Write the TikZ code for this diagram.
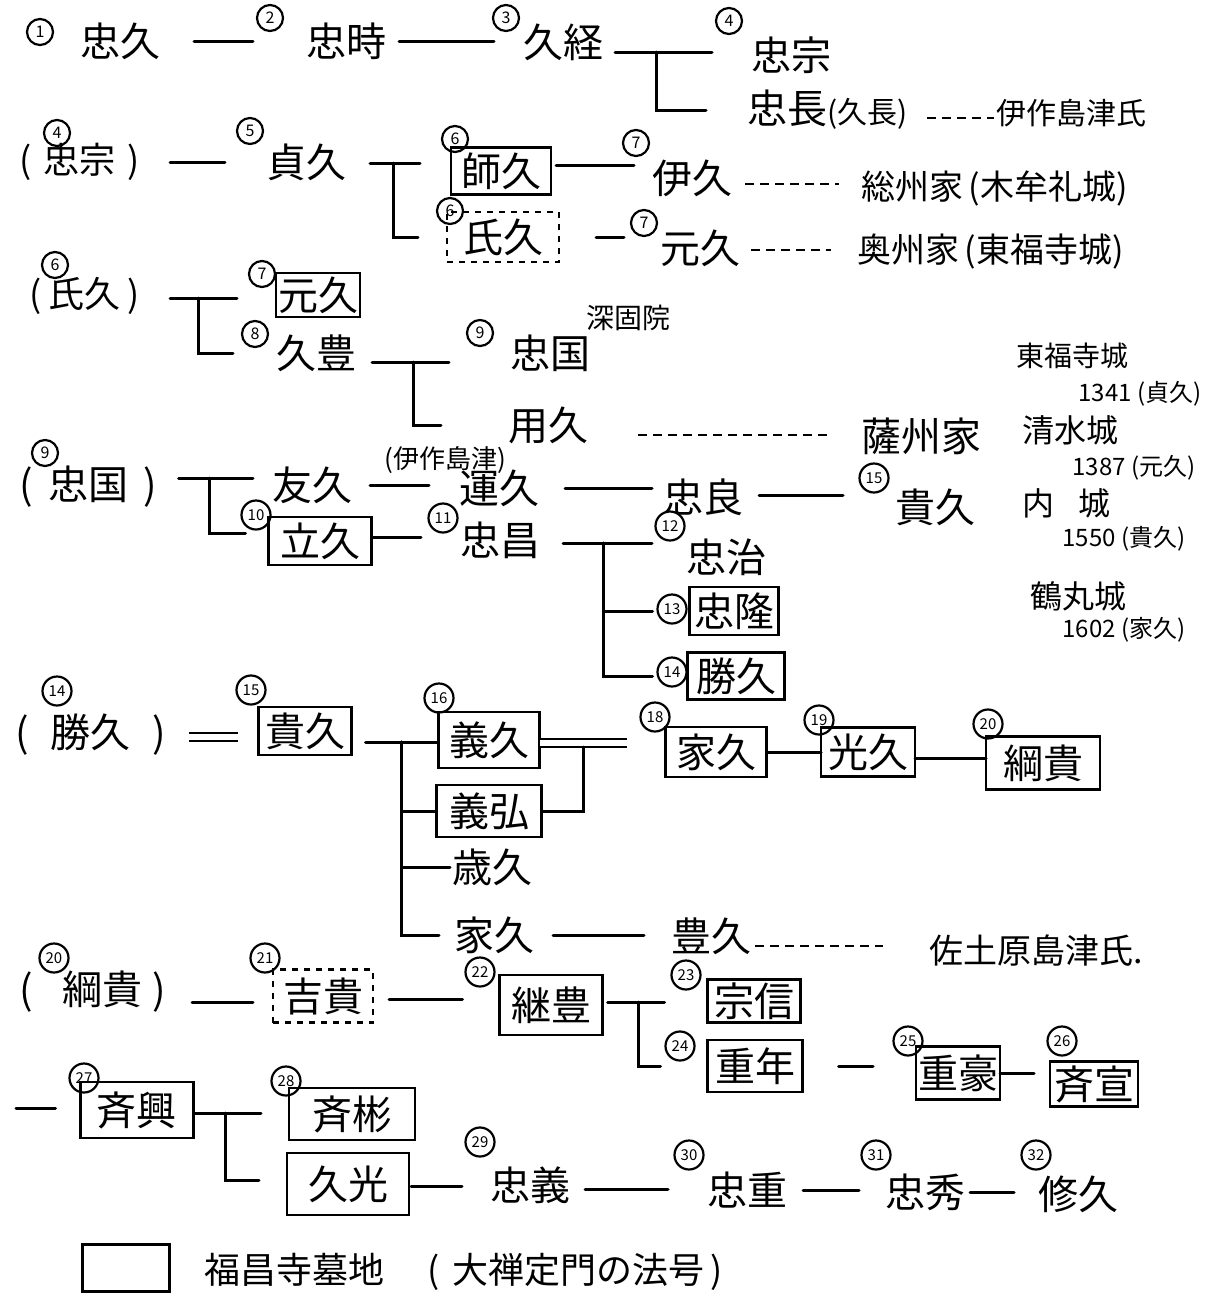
\documentclass[tikz,border=0pt]{standalone}
\usepackage{fontspec}
\setmainfont{Noto Sans CJK JP}
\newcommand{\szf}[1]{\fontsize{#1}{#1}\selectfont}
\begin{document}
\begin{tikzpicture}[x=0.5pt,y=-0.5pt,
 link/.style={line width=1.5pt, line cap=round},
 dashlink/.style={line width=1.4pt, dash pattern=on 4.5pt off 3pt},
 dbl/.style={line width=1.2pt, double, double distance=2.6pt},
 nm/.style={inner sep=1pt, outer sep=0pt, font=\szf{20}},
 bx/.style={draw, line width=1.4pt, inner sep=1pt, outer sep=0pt, font=\szf{20}},
 dbx/.style={bx, line width=1.2pt, dash pattern=on 3pt off 3pt},
 num/.style={circle, draw, line width=1.1pt, inner sep=0pt, minimum size=13pt, font=\szf{8}},
 numw/.style={num, minimum size=14.5pt, font=\szf{7.5}},
 note/.style={inner sep=1pt, font=\szf{14}},
 yr/.style={inner sep=1pt, font=\szf{12}}]
\useasboundingbox (0,0) rectangle (1225,1313);
\fill[white] (0,0) rectangle (1225,1313);

% ---------- Row 1
\node[nm] (tadahisa) at (120,41) {忠久};
\node[num] (c1) at (40,32) {1};
\node[nm] (tadatoki) at (346,41) {忠時};
\node[num] (c2) at (270,18) {2};
\node[nm] (hisatsune) at (563,42) {久経};
\node[num] (c3) at (506,18) {3};
\node[nm] (tadamune) at (791,55) {忠宗};
\node[num] (c4) at (729,21) {4};
\node[nm, anchor=west] (tadanaga) at (745,110) {忠長{\szf{15}(久長)}};
\node[nm, anchor=west, font=\szf{15}] (izaku) at (994,113) {伊作島津氏};

% ---------- Row 2
\node[nm, font=\szf{18}] (pTadamune) at (80,162) {(\hspace{6pt}忠宗\hspace{6pt})};
\node[num] (c4b) at (57,133) {4};
\node[nm] (sadahisa) at (306,162) {貞久};
\node[num] (c5) at (250,131) {5};
\node[bx, minimum width=50pt, minimum height=23.5pt] (morohisa) at (501,171) {師久};
\node[num] (c6) at (455,139) {6};
\node[nm] (korehisa) at (692,178) {伊久};
\node[num] (c7a) at (636,143) {7};
\node[nm, anchor=west, font=\szf{17}] (soshu) at (859,188) {総州家\hspace{3pt}(木牟礼城)};

% ---------- Row 3
\node[dbx, minimum width=56pt, minimum height=25pt] (ujihisa) at (503,237) {氏久};
\node[num] (c6b) at (450,211) {6};
\node[nm] (motohisaA) at (700,248) {元久};
\node[num] (c7b) at (644,223) {7};
\node[nm, anchor=west, font=\szf{17}] (oshu) at (855,252) {奥州家\hspace{3pt}(東福寺城)};

% ---------- Row 4
\node[nm, font=\szf{18}] (pUjihisa) at (85,296) {(\hspace{3.5pt}氏久\hspace{3.5pt})};
\node[num] (c6c) at (55,265) {6};
\node[bx, minimum width=41.5pt, minimum height=22pt] (motohisaB) at (318,295) {元久};
\node[num] (c7c) at (262,274) {7};
\node[nm] (hisatoyo) at (316,353) {久豊};
\node[num] (c8) at (255,334) {8};
\node[nm] (tadakuni) at (550,353) {忠国};
\node[num] (c9) at (480,333) {9};
\node[nm, font=\szf{14}] (shinko) at (628,318) {深固院};
\node[nm] (yochi) at (548,425) {用久};
\node[nm] (sasshu) at (921,436) {薩州家};

% ---------- castle notes
\node[note] (tofukuji) at (1072,356) {東福寺城};
\node[yr] (y1341) at (1140,394) {1341 (貞久)};
\node[note, font=\szf{16}] (shimizu) at (1070,430) {清水城};
\node[yr] (y1387) at (1134,468) {1387 (元久)};
\node[note, font=\szf{16}] (uchi) at (1066,503) {内\hspace{12pt}城};
\node[yr] (y1550) at (1124,539) {1550 (貴久)};
\node[note, font=\szf{16}] (tsurumaru) at (1078,596) {鶴丸城};
\node[yr] (y1602) at (1124,630) {1602 (家久)};

% ---------- Row 5
\node[nm] (pTadakuni) at (88,487) {(\hspace{7.5pt}忠国\hspace{7.5pt})};
\node[num] (c9b) at (45,453) {9};
\node[nm] (tomohisa) at (312,485) {友久};
\node[nm, font=\szf{13}] (ijuinlbl) at (445,460) {(伊作島津)};
\node[nm] (unkyu) at (499,488) {運久};
\node[nm] (tadayoshiA) at (703,497) {忠良};
\node[nm] (takahisaA) at (935,507) {貴久};
\node[numw] (c15a) at (874,478) {15};

% ---------- Row 6
\node[bx, minimum width=51.5pt, minimum height=24pt] (tatehisa) at (320,541) {立久};
\node[numw] (c10) at (256,515) {10};
\node[nm] (tadamasa) at (500,540) {忠昌};
\node[numw] (c11) at (443,518) {11};
\node[nm] (tadaharu) at (726,557) {忠治};
\node[numw] (c12) at (670,526) {12};
\node[bx, minimum width=44.5pt, minimum height=24pt] (tadataka) at (734,611) {忠隆};
\node[numw] (c13) at (672,609) {13};
\node[bx, minimum width=48.5pt, minimum height=23.5pt] (katsuhisa) at (736,676) {勝久};
\node[numw] (c14) at (672,672) {14};

% ---------- Row 7
\node[nm] (pKatsuhisa) at (91,735) {(\hspace{11pt}勝久\hspace{11pt})};
\node[numw] (c14b) at (57,691) {14};
\node[bx, minimum width=46.5pt, minimum height=24pt] (takahisaB) at (305,731) {貴久};
\node[numw] (c15b) at (251,690) {15};
\node[bx, minimum width=50.5pt, minimum height=28pt] (yoshihisa) at (489,740) {義久};
\node[numw] (c16) at (439,698) {16};
\node[bx, minimum width=52.5pt, minimum height=26pt] (yoshihiro) at (489,811) {義弘};
\node[nm] (toshihisa) at (492,867) {歳久};
\node[bx, minimum width=50.5pt, minimum height=25pt] (iehisaB) at (716,752) {家久};
\node[numw] (c18) at (655,717) {18};
\node[bx, minimum width=47pt, minimum height=24.5pt] (mitsuhisa) at (868,752) {光久};
\node[numw] (c19) at (819,720) {19};
\node[bx, minimum width=57pt, minimum height=26.5pt] (tsunataka) at (1043,763) {綱貴};
\node[numw] (c20) at (988,724) {20};

% ---------- Row 8
\node[nm] (iehisaA) at (494,935) {家久};
\node[nm] (toyohisa) at (711,936) {豊久};
\node[nm, anchor=west, font=\szf{17}] (sadowara) at (927,951) {佐土原島津氏.};

% ---------- Row 9
\node[nm] (pTsunataka) at (93,992) {(\hspace{14.5pt}綱貴\hspace{5pt})};
\node[numw] (c20b) at (54,958) {20};
\node[dbx, minimum width=50pt, minimum height=26.5pt] (yoshitaka) at (323,996) {吉貴};
\node[numw] (c21) at (265,958) {21};
\node[bx, minimum width=51.5pt, minimum height=30pt] (tsugutoyo) at (551,1005) {継豊};
\node[numw] (c22) at (480,972) {22};
\node[bx, minimum width=46.5pt, minimum height=21.5pt] (munenobu) at (754,1001) {宗信};
\node[numw] (c23) at (686,975) {23};
\node[bx, minimum width=47.5pt, minimum height=26pt] (shigetoshi) at (755,1066) {重年};
\node[numw] (c24) at (680,1046) {24};
\node[bx, minimum width=39.5pt, minimum height=26.5pt] (shigehide) at (958,1073) {重豪};
\node[numw] (c25) at (908,1041) {25};
\node[bx, minimum width=44pt, minimum height=22.5pt] (narinobu) at (1094,1084) {斉宣};
\node[numw] (c26) at (1062,1041) {26};

% ---------- Row 10
\node[bx, minimum width=56.5pt, minimum height=28pt] (narioki) at (137,1110) {斉興};
\node[numw] (c27) at (84,1078) {27};
\node[bx, minimum width=63pt, minimum height=26pt] (nariakira) at (352,1114) {斉彬};
\node[numw] (c28) at (286,1081) {28};
\node[bx, minimum width=61pt, minimum height=31pt] (hisamitsu) at (348,1184) {久光};
\node[nm] (tadayoshiB) at (530,1185) {忠義};
\node[numw] (c29) at (480,1142) {29};
\node[nm] (tadashige) at (747,1190) {忠重};
\node[numw] (c30) at (689,1155) {30};
\node[nm] (tadahide) at (925,1192) {忠秀};
\node[numw] (c31) at (876,1155) {31};
\node[nm] (osahisa) at (1078,1194) {修久};
\node[numw] (c32) at (1036,1155) {32};

% ---------- Legend
\node[draw, line width=1.4pt, minimum width=43.5pt, minimum height=23.5pt, inner sep=0pt] (legendbox) at (126,1268) {};
\node[nm, anchor=west, font=\szf{18}] (legendtxt) at (202,1272) {福昌寺墓地\hspace{22pt}(\hspace{6pt}大禅定門の法号\hspace{3pt})};

% ================= connectors
% Row 1
\draw[link, shorten <=16pt, shorten >=25.5pt] (tadahisa.east) -- (tadahisa.east -| tadatoki.west);
\draw[link, shorten <=5.5pt, shorten >=13.5pt] (tadatoki.east) -- (tadatoki.east -| hisatsune.west);
\coordinate (j1) at (656,52);
\draw[link, shorten <=5pt, shorten >=18.5pt] (j1 -| hisatsune.east) -- (j1 -| tadamune.west);
\draw[link, shorten >=19.5pt] (j1) |- (tadanaga.west);
\draw[dashlink, shorten <=9pt] ([yshift=-4pt]tadanaga.east) -- ([yshift=-4pt]tadanaga.east -| izaku.west);
% Row 2
\draw[link, shorten <=14pt, shorten >=19.5pt] (pTadamune.east) -- (pTadamune.east -| sadahisa.west);
\coordinate (j2) at (393,163);
\draw[link, shorten <=11pt, shorten >=15.5pt] (j2 -| sadahisa.east) -- (j2 -| morohisa.west);
\draw[link, shorten >=14.5pt] (j2) |- (ujihisa.west);
\draw[link, shorten <=2.5pt, shorten >=8pt] ([yshift=3pt]morohisa.east) -- ([yshift=3pt]morohisa.east -| korehisa.west);
\draw[dashlink, shorten <=5.5pt, shorten >=10pt] ([yshift=-3pt]korehisa.east) -- ([yshift=-3pt]korehisa.east -| soshu.west);
% Row 3
\draw[link, shorten <=18.5pt, shorten >=17pt] (ujihisa.east) -- (ujihisa.east -| motohisaA.west);
\draw[dashlink, shorten <=4.5pt, shorten >=12pt] ([yshift=-1pt]motohisaA.east) -- ([yshift=-1pt]motohisaA.east -| oshu.west);
% Row 4
\coordinate (j3) at (198,298);
\draw[link, shorten <=14pt, shorten >=19.5pt] (j3 -| pUjihisa.east) -- (j3 -| motohisaB.west);
\draw[link, shorten >=20.5pt] (j3) |- (hisatoyo.west);
\coordinate (j4) at (413,362);
\draw[link, shorten <=7pt, shorten >=29.5pt] (j4 -| hisatoyo.east) -- (j4 -| tadakuni.west);
\draw[link, shorten >=32.5pt] (j4) |- (yochi.west);
\draw[dashlink, shorten <=24pt, shorten >=15pt] ([yshift=-5pt]yochi.east) -- ([yshift=-5pt]yochi.east -| sasshu.west);
% Row 5
\coordinate (j5) at (209,478);
\draw[link, shorten <=10pt, shorten >=8.5pt] (j5 -| pTadakuni.east) -- (j5 -| tomohisa.west);
\draw[link, shorten >=11.5pt] (j5) |- ([yshift=4pt]tatehisa.west);
\draw[link, shorten <=8pt, shorten >=14pt] (tomohisa.east) -- (tomohisa.east -| unkyu.west);
\draw[link, shorten <=12pt, shorten >=4.5pt] (unkyu.east) -- (unkyu.east -| tadayoshiA.west);
\draw[link, shorten <=7pt, shorten >=25pt] ([yshift=1pt]tadayoshiA.east) -- ([yshift=1pt]tadayoshiA.east -| takahisaA.west);
% Row 6
\draw[link, shorten >=18.5pt] ([yshift=2pt]tatehisa.east) -- ([yshift=2pt]tatehisa.east -| tadamasa.west);
\coordinate (j6) at (603,543);
\draw[link, shorten <=10.5pt, shorten >=16pt] (j6 -| tadamasa.east) -- (j6 -| tadaharu.west);
\draw[link, shorten >=18.5pt] (j6) |- (tadataka.west);
\draw[link, shorten >=17.5pt] (j6) |- (katsuhisa.west);
% Row 7
\draw[dbl, shorten <=10pt, shorten >=10.5pt] ([yshift=-1pt]pKatsuhisa.east) -- ([yshift=-1pt]pKatsuhisa.east -| takahisaB.west);
\coordinate (j7) at (401,742);
\draw[link, shorten <=7pt] (j7 -| takahisaB.east) -- (j7 -| yoshihisa.west);
\draw[link] (j7) |- (yoshihiro.west);
\draw[link] (j7) |- (toshihisa.west);
\draw[link, shorten >=6.5pt] (j7) |- (iehisaA.west);
\draw[dbl, shorten >=19.5pt] ([yshift=-1.5pt]yoshihisa.east) -- ([yshift=-1.5pt]yoshihisa.east -| iehisaB.west);
\coordinate (j8) at (583,747);
\draw[link] (yoshihiro.east) -| (j8);
\draw[link] (iehisaB.east) -- (iehisaB.east -| mitsuhisa.west);
\draw[link] ([yshift=-3pt]mitsuhisa.east) -- ([yshift=-3pt]mitsuhisa.east -| tsunataka.west);
% Row 8
\draw[link, shorten <=8.5pt, shorten >=12.5pt] (iehisaA.east) -- (iehisaA.east -| toyohisa.west);
\draw[dashlink, shorten <=1pt, shorten >=22pt] ([yshift=-5pt]toyohisa.east) -- ([yshift=-5pt]toyohisa.east -| sadowara.west);
% Row 9
\draw[link, shorten <=12pt, shorten >=10pt] ([yshift=-5pt]pTsunataka.east) -- ([yshift=-5pt]pTsunataka.east -| yoshitaka.west);
\draw[link, shorten <=8pt, shorten >=18.5pt] ([yshift=-1.5pt]yoshitaka.east) -- ([yshift=-1.5pt]yoshitaka.east -| tsugutoyo.west);
\coordinate (j9) at (638,1002);
\draw[link, shorten <=2.5pt, shorten >=21.5pt] (j9 -| tsugutoyo.east) -- (j9 -| munenobu.west);
\draw[link, shorten >=23.5pt] (j9) |- (shigetoshi.west);
\draw[link, shorten <=18pt, shorten >=21.5pt] (shigetoshi.east) -- (shigetoshi.east -| shigehide.west);
\draw[link, shorten >=8pt] (shigehide.east) -- (shigehide.east -| narinobu.west);
% Row 10
\coordinate (cont) at (16,1108);
\draw[link, shorten >=12.5pt] (cont) -- (cont -| narioki.west);
\coordinate (j10) at (225,1113);
\draw[link, shorten >=14pt] (j10 -| narioki.east) -- (j10 -| nariakira.west);
\draw[link, shorten >=14pt] (j10) |- ([yshift=2pt]hisamitsu.west);
\draw[link, shorten <=1pt, shorten >=13pt] ([yshift=-1pt]hisamitsu.east) -- ([yshift=-1pt]hisamitsu.east -| tadayoshiB.west);
\draw[link, shorten <=6.5pt, shorten >=18.5pt] ([yshift=-2pt]tadayoshiB.east) -- ([yshift=-2pt]tadayoshiB.east -| tadashige.west);
\draw[link, shorten <=7pt, shorten >=12pt] (tadashige.east) -- (tadashige.east -| tadahide.west);
\draw[link, shorten <=1.5pt, shorten >=11pt] (tadahide.east) -- (tadahide.east -| osahisa.west);
\end{tikzpicture}
\end{document}
